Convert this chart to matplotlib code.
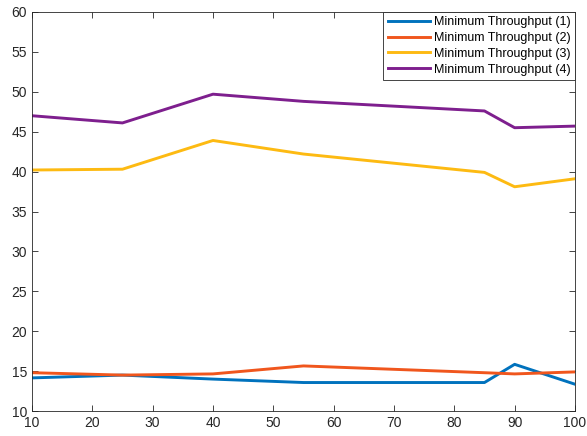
import matplotlib
matplotlib.use("Agg")
import matplotlib.pyplot as plt

plt.rcParams['font.family'] = ['Liberation Sans', 'DejaVu Sans']

x = [10, 25, 40, 55, 85, 90, 100]
thr1 = [14.15, 14.5, 14.0, 13.57, 13.57, 15.85, 13.36]
thr2 = [14.8, 14.5, 14.65, 15.65, 14.8, 14.65, 14.9]
thr3 = [40.2, 40.3, 43.9, 42.2, 39.9, 38.1, 39.1]
thr4 = [47.0, 46.1, 49.7, 48.8, 47.6, 45.5, 45.7]

labels = ["Minimum Throughput (1)", "Minimum Throughput (2)",
          "Minimum Throughput (3)", "Minimum Throughput (4)"]
colors = ["#0072BD", "#F0561D", "#FDBA12", "#7E1F8E"]

fig = plt.figure(figsize=(5.87, 4.36), dpi=100)
ax = fig.add_axes([0.0545, 0.0573, 0.925, 0.9152])

for y, lab, c in zip([thr1, thr2, thr3, thr4], labels, colors):
    ax.plot(x, y, color=c, lw=2.1, label=lab)

ax.set_xlim(10, 100)
ax.set_ylim(10, 60)
ax.set_xticks(range(10, 101, 10))
ax.set_yticks(range(10, 61, 5))
ax.tick_params(direction="in", top=True, right=True, length=4,
               width=0.6, color="#262626", labelsize=10, labelcolor="#262626")
for s in ax.spines.values():
    s.set_linewidth(0.6)
    s.set_color("#262626")

leg = ax.legend(loc="upper right", fontsize=9, fancybox=False,
                framealpha=1, edgecolor="#262626", borderaxespad=0,
                handlelength=3.4, handletextpad=0.3, labelspacing=0.3,
                borderpad=0.35)
leg.get_frame().set_linewidth(0.6)

fig.savefig("out.png", dpi=100)
